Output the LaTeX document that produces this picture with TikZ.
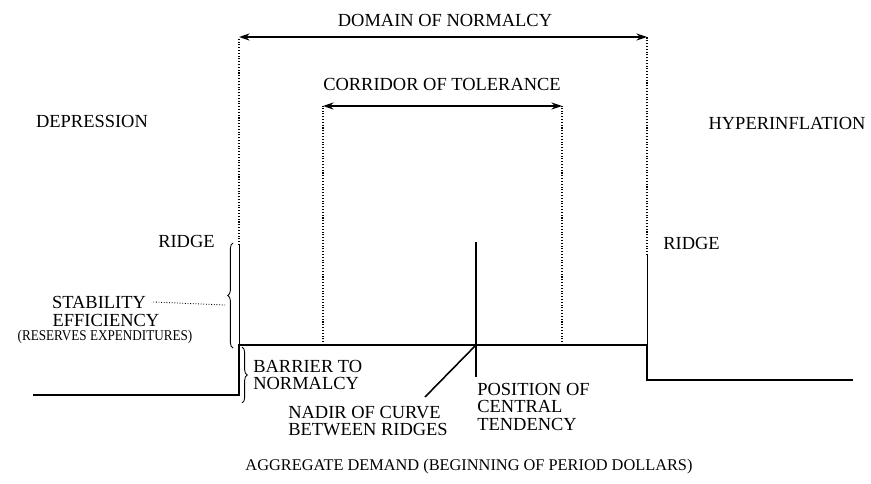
\documentclass[tikz,border=0pt]{standalone}
\usepackage{fontspec}
\setmainfont{Liberation Serif}
\usetikzlibrary{arrows.meta}
\usetikzlibrary{decorations.pathreplacing}
\usetikzlibrary{positioning}

\begin{document}
\begin{tikzpicture}[x=0.02cm,y=-0.02cm,
  txt/.style={inner sep=0pt,font=\fontsize{10.5}{9.8}\selectfont},
  pointille/.style={densely dotted,line width=0.6pt},
  trait/.style={line width=0.9pt},
  fleche/.style={line width=0.9pt,{Stealth[length=6pt,width=4pt]}-{Stealth[length=6pt,width=4pt]}},
  accolade/.style={decorate,decoration={brace,amplitude=3pt},line width=0.5pt}]
\useasboundingbox (0,0) rectangle (871,483);
% points de la courbe
\coordinate (g0) at (33,395);
\coordinate (g1) at (239,395);
\coordinate (g2) at (239,345);
\coordinate (g3) at (239,245);
\coordinate (g4) at (239,37);
\coordinate (d0) at (853,380);
\coordinate (d1) at (647,380);
\coordinate (d2) at (647,345);
\coordinate (d3) at (647,255);
\coordinate (d4) at (647,37);
\coordinate (c1) at (323,345);
\coordinate (c2) at (323,106);
\coordinate (e1) at (562,345);
\coordinate (e2) at (562,106);
\coordinate (centre) at (476,345);
\coordinate (sommet) at (476,242);
\coordinate (bas) at (476,377);
\coordinate (nadirtip) at (425,397);
\coordinate (pointe) at (225,305);
% courbe
\draw[trait] (g0) -- (g1) -- (g2) -- (d2) -- (d1) -- (d0);
\draw[line width=0.4pt] (g2) -- (g3);
\draw[line width=0.4pt] (d2) -- (d3);
% limites
\draw[pointille] (g3) -- (g4);
\draw[pointille] (d3) -- (d4);
\draw[pointille] (c1) -- (c2);
\draw[pointille] (e1) -- (e2);
% fleches
\draw[fleche] (g4) -- (d4);
\draw[fleche] (c2) -- (e2);
\draw[trait] (sommet) -- (bas);
\draw[trait] (centre) -- (nadirtip);
% accolades
\draw[accolade] (233,348) -- (233,243);
\draw[accolade] (242,347) -- (242,403);
% textes
\node[txt] (domaine) at (445,20) {DOMAIN OF NORMALCY};
\node[txt] (couloir) at (442,84) {CORRIDOR OF TOLERANCE};
\node[txt] (depression) at (92,121) {DEPRESSION};
\node[txt] (hyper) at (787,123) {HYPERINFLATION};
\node[txt,anchor=east] (crete1) at (215,241) {RIDGE};
\node[txt,anchor=west] (crete2) at (663,243) {RIDGE};
\node[txt] (stab) at (99,302) {STABILITY};
\node[txt] (eff) at (106,320) {EFFICIENCY};
\node[txt] (reserves) at (105,337) {\scalebox{0.88}[1]{\fontsize{8.5}{9}\selectfont (RESERVES EXPENDITURES)}};
\node[txt,align=left,anchor=north west] (barriere) at (253,360) {BARRIER TO\\NORMALCY};
\node[txt,align=left,anchor=north west] (nadir) at (288,406) {NADIR OF CURVE\\BETWEEN RIDGES};
\node[txt,align=left,anchor=north west] (position) at (477,383) {POSITION OF\\CENTRAL\\TENDENCY};
\node[txt,font=\fontsize{9.3}{11}\selectfont] (axe) at (469,467) {AGGREGATE DEMAND (BEGINNING OF PERIOD DOLLARS)};
\draw[pointille,line width=0.5pt] ([xshift=4pt]stab.east) -- (pointe);
\end{tikzpicture}
\end{document}
